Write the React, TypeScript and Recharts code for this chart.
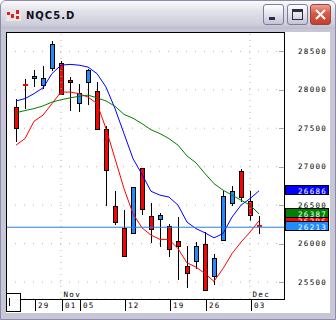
import React from 'react';
import { ComposedChart, Bar, Line, XAxis, YAxis, CartesianGrid, ReferenceLine } from 'recharts';

// daily bars, NQC5
const dates = [
  '10/25', '10/26', '10/29', '10/30', '10/31', '11/01', '11/02', '11/05', '11/06', '11/07',
  '11/08', '11/09', '11/12', '11/13', '11/14', '11/15', '11/16', '11/19', '11/20', '11/21',
  '11/23', '11/26', '11/27', '11/28', '11/29', '11/30', '12/03', '12/04',
];
const opens = [
  27770, 28060, 28150, 28065, 28285, 28350, 28125, 27825, 28095, 27980,
  27485, 26485, 26205, 26135, 26980, 26360, 26315, 26225, 26035, 25705,
  25780, 25990, 25575, 26050, 26530, 26940, 26550, 26225,
];
const highs = [
  27885, 28145, 28260, 28305, 28630, 28370, 28165, 28070, 28265, 28100,
  27525, 26680, 26435, 26740, 26985, 26530, 26400, 26260, 26345, 25965,
  26020, 26150, 25870, 26685, 26750, 26975, 26680, 26355,
];
const lows = [
  27320, 27755, 28035, 28015, 28240, 27930, 27730, 27710, 27800, 27485,
  26485, 26240, 25830, 26125, 26370, 26010, 25955, 25825, 25530, 25425,
  25675, 25390, 25460, 26045, 26490, 26540, 26300, 26130,
];
const closes = [
  27505, 28050, 28180, 28155, 28590, 27940, 28095, 27960, 28255, 27490,
  26955, 26280, 25835, 26730, 26445, 26185, 26370, 25925, 25970, 25615,
  25965, 25400, 25810, 26620, 26680, 26600, 26370, 26213,
];
// moving averages as plotted
const maFast = [
  27280, 27365, 27590, 27670, 27820, 27970, 27970, 27950, 27905, 27820,
  27495, 27105, 26715, 26390, 26205, 26110, 26055, 26055, 25935, 25750,
  25695, 25610, 25510, 25675, 25870, 26020, 26150, 26296,
];
const maMid = [
  27855, 27885, 27950, 28025, 28210, 28320, 28330, 28320, 28295, 28210,
  28035, 27755, 27430, 27105, 26900, 26680, 26630, 26605, 26500, 26280,
  26195, 26140, 26075, 26130, 26345, 26500, 26585, 26686,
];
const maSlow = [
  27700, 27730, 27755, 27790, 27840, 27870, 27895, 27915, 27930, 27895,
  27855, 27785, 27680, 27630, 27560, 27480, 27430, 27365, 27280, 27140,
  27050, 26910, 26780, 26695, 26630, 26565, 26500, 26387,
];

const priceTicks = [
  25500, 25750, 26000, 26250, 26500, 26750, 27000, 27250, 27500, 27750, 28000, 28250, 28500,
];
const dayLabels: Record<string, string> = {
  '10/29': '29', '11/01': '01', '11/05': '05', '11/12': '12', '11/19': '19', '11/26': '26', '12/03': '03',
};
const monthLabels: Record<string, string> = { '11/01': 'Nov', '12/03': 'Dec' };
const monthStarts = ['11/01', '12/03'];

const lastPrice = 26213;
const fastLast = 26296;
const midLast = 26686;
const slowLast = 26387;

const rows = dates.map((d, i) => ({
  date: d,
  open: opens[i],
  high: highs[i],
  low: lows[i],
  close: closes[i],
  range: [lows[i], highs[i]],
  fast: maFast[i],
  mid: maMid[i],
  slow: maSlow[i],
}));

const pixFont = '"DejaVu Sans Mono", monospace';

const Candle = (props: any) => {
  const { x, y, width, height, payload } = props;
  const { open, close, high, low } = payload;
  const k = height / (high - low || 1);
  const cx = Math.round(x + width / 2) + 0.5;
  const yO = y + (high - open) * k;
  const yC = y + (high - close) * k;
  const up = close >= open;
  const top = Math.round(Math.min(yO, yC));
  const bot = Math.round(Math.max(yO, yC));
  const color = up ? '#1e8cff' : '#ff0000';
  return (
    <g>
      <line x1={cx} x2={cx} y1={Math.round(y)} y2={Math.round(y + height)} stroke="#000" />
      {bot - top < 2 ? (
        <rect x={cx - 2.5} y={top - 1} width={5} height={2} fill={color} />
      ) : (
        <rect x={cx - 2} y={top + 0.5} width={4} height={bot - top} fill={color} stroke="#000" />
      )}
    </g>
  );
};

const PriceTick = (props: any) => {
  const { x, y, payload } = props;
  const v = payload.value;
  const yy = Math.round(y) + 0.5;
  return (
    <g>
      <line x1={x - 5} x2={x} y1={yy} y2={yy} stroke="#a8a8a8" />
      {v % 500 === 0 && (
        <text x={x + 14} y={y + 2.5} fontFamily={pixFont} fontSize={7.5} letterSpacing={1.3} fill="#000">
          {v}
        </text>
      )}
    </g>
  );
};

const DateTick = (props: any) => {
  const { x, y, payload } = props;
  const day = dayLabels[payload.value];
  if (!day) return null;
  const month = monthLabels[payload.value];
  const lx = Math.round(x) + 1.5;
  return (
    <g>
      <line x1={lx} x2={lx} y1={y} y2={y + 12} stroke="#000" />
      <text x={lx + 2.5} y={y + 8.5} fontFamily={pixFont} fontSize={7.5} letterSpacing={1.3} fill="#000">
        {day}
      </text>
      {month && (
        <text x={lx + 1} y={y - 1.8} fontFamily={pixFont} fontSize={7.5} letterSpacing={1.3} fill="#000">
          {month}
        </text>
      )}
    </g>
  );
};

const PriceBox = (props: any) => {
  const { viewBox, boxFill, text } = props;
  const x = viewBox.x + viewBox.width;
  const y = Math.round(viewBox.y);
  return (
    <g>
      <rect x={x + 1.5} y={y - 5.5} width={43} height={9} fill={boxFill} stroke="#000" />
      <text x={x + 14} y={y + 2.5} fontFamily={pixFont} fontSize={7.5} letterSpacing={1.3} fill="#fff">
        {text}
      </text>
    </g>
  );
};

const WinButton = ({ left, kind }: { left: number; kind: string }) => {
  const close = kind === 'close';
  return (
    <div
      style={{
        position: 'absolute',
        left,
        top: 3,
        width: 21,
        height: 21,
        boxSizing: 'border-box',
        borderRadius: 3,
        border: close ? '1px solid #8a4a4a' : '1px solid #7c7c9c',
        background: close
          ? 'linear-gradient(#f0a090, #d85a44 45%, #c4402c)'
          : 'linear-gradient(#ffffff, #e6e6ee 45%, #c4c4d6)',
      }}
    >
      {kind === 'min' && (
        <div style={{ position: 'absolute', left: 5, top: 12, width: 6, height: 3, background: '#2c2c44' }} />
      )}
      {kind === 'max' && (
        <div
          style={{
            position: 'absolute', left: 4, top: 4, width: 11, height: 11, boxSizing: 'border-box',
            border: '1px solid #2c2c44', borderTop: '3px solid #2c2c44',
          }}
        />
      )}
      {close && (
        <svg width={19} height={19} style={{ position: 'absolute', left: 0, top: 0 }}>
          <path d="M5 5 L14 14 M14 5 L5 14" stroke="#fff" strokeWidth={2} />
        </svg>
      )}
    </div>
  );
};

export default function App() {
  return (
    <div
      style={{
        position: 'absolute',
        left: 0,
        top: 0,
        width: 336,
        height: 320,
        background: '#c6c6d6',
        boxSizing: 'border-box',
        border: '1px solid #8c8ca8',
        borderRadius: '6px 6px 0 0',
        overflow: 'hidden',
      }}
    >
      {/* title bar */}
      <div
        style={{
          position: 'absolute', left: 0, top: 0, width: 334, height: 28,
          background: 'linear-gradient(#fbfbfd, #e2e2ea 35%, #cfcfdd 80%, #bcbccc)',
        }}
      >
        <svg width={15} height={12} style={{ position: 'absolute', left: 5, top: 8 }}>
          <rect x={0} y={0} width={15} height={12} fill="#e8e8e8" />
          <rect x={1} y={3} width={3} height={3} fill="#e02020" />
          <rect x={5} y={5} width={3} height={4} fill="#e02020" />
          <rect x={10} y={1} width={3} height={4} fill="#e02020" />
          <rect x={10} y={7} width={3} height={3} fill="#e02020" />
        </svg>
        <div
          style={{
            position: 'absolute', left: 25, top: 8, fontFamily: '"DejaVu Sans", sans-serif',
            fontWeight: 'bold', fontSize: 10, letterSpacing: 1, color: '#101018', lineHeight: '14px',
          }}
        >
          NQC5.D
        </div>
        <WinButton left={262} kind="min" />
        <WinButton left={286} kind="max" />
        <WinButton left={309} kind="close" />
      </div>

      {/* client area */}
      <div style={{ position: 'absolute', left: 5, top: 31, width: 324, height: 281, background: '#fff' }}>
        <ComposedChart
          width={324}
          height={281}
          data={rows}
          margin={{ top: 0, right: 0, bottom: 0, left: 0 }}
        >
          <CartesianGrid vertical={false} stroke="#b4b4b4" strokeDasharray="1 8" />
          <XAxis
            dataKey="date"
            height={14}
            interval={0}
            padding={{ left: 5.5, right: 20.5 }}
            axisLine={false}
            tickLine={false}
            tickSize={0}
            tickMargin={0}
            tick={<DateTick />}
          />
          <YAxis
            orientation="right"
            width={46}
            domain={[25280, 28751]}
            ticks={priceTicks}
            allowDataOverflow
            axisLine={false}
            tickLine={false}
            tickSize={0}
            tickMargin={0}
            tick={<PriceTick />}
          />
          {monthStarts.map((m) => (
            <ReferenceLine key={m} x={m} stroke="#b4b4b4" strokeDasharray="1 5" />
          ))}
          <Bar dataKey="range" barSize={5} shape={<Candle />} isAnimationActive={false} />
          <Line dataKey="fast" stroke="#ff0000" strokeWidth={1} dot={false} isAnimationActive={false} />
          <Line dataKey="mid" stroke="#0000ff" strokeWidth={1} dot={false} isAnimationActive={false} />
          <Line dataKey="slow" stroke="#008000" strokeWidth={1} dot={false} isAnimationActive={false} />
          <ReferenceLine y={fastLast} stroke="none" label={<PriceBox boxFill="#ff0000" text={fastLast} />} />
          <ReferenceLine y={slowLast} stroke="none" label={<PriceBox boxFill="#008000" text={slowLast} />} />
          <ReferenceLine y={lastPrice} stroke="#2a80e0" label={<PriceBox boxFill="#1e8cff" text={lastPrice} />} />
          <ReferenceLine y={midLast} stroke="none" label={<PriceBox boxFill="#0000ff" text={midLast} />} />
        </ComposedChart>
      </div>

      {/* plot frame */}
      <div
        style={{
          position: 'absolute', left: 5, top: 31, width: 279, height: 268,
          boxSizing: 'border-box', border: '1px solid #000', pointerEvents: 'none',
        }}
      />
      {/* scroll thumb */}
      <div
        style={{
          position: 'absolute', left: 5, top: 292, width: 15, height: 19,
          boxSizing: 'border-box', border: '1px solid #000', background: '#fff',
        }}
      >
        <div style={{ position: 'absolute', left: 2, top: 4, width: 1, height: 8, background: '#000' }} />
      </div>
    </div>
  );
}
